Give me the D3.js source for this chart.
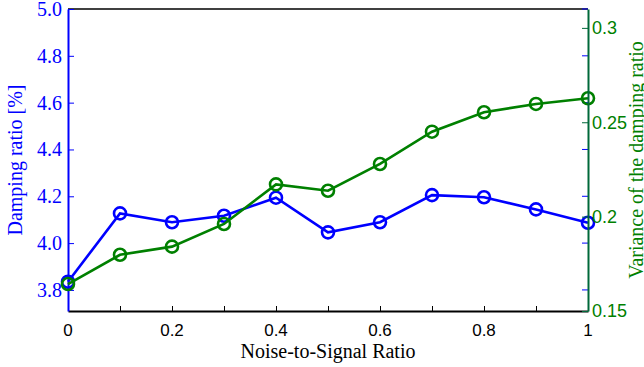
<!DOCTYPE html>
<html>
<head>
<meta charset="utf-8">
<script src="https://cdn.jsdelivr.net/npm/d3@7"></script>
<style>
  body { margin: 0; background: #fff; }
  svg { display: block; }
</style>
</head>
<body>
<svg id="chart"></svg>
<script>
// noise-to-signal ratio
const ratios = [0, 0.1, 0.2, 0.3, 0.4, 0.5, 0.6, 0.7, 0.8, 0.9, 1.0];
// damping ratio [%] (left axis)
const damping = [3.835, 4.127, 4.089, 4.117, 4.194, 4.046, 4.089, 4.205, 4.196, 4.144, 4.087];
// variance of the damping ratio (right axis)
const variance = [0.1643, 0.1798, 0.1841, 0.1961, 0.2171, 0.2137, 0.2279, 0.245, 0.2553, 0.2597, 0.2627];

const xTicks = [0, 0.2, 0.4, 0.6, 0.8, 1];
const xMinor = [0, 0.1, 0.2, 0.3, 0.4, 0.5, 0.6, 0.7, 0.8, 0.9, 1];
const leftTicks = [3.8, 4.0, 4.2, 4.4, 4.6, 4.8, 5.0];
const rightTicks = [0.15, 0.2, 0.25, 0.3];

const width = 644, height = 367;
const margin = { top: 9, right: 56, bottom: 56, left: 68 };
const w = width - margin.left - margin.right;
const h = height - margin.top - margin.bottom;

const BLUE = "#0000ff", GREEN = "#008000", AXGREEN = "#00693a";

const svg = d3.select("#chart").attr("width", width).attr("height", height);
const g = svg.append("g").attr("transform", `translate(${margin.left},${margin.top})`);

const x = d3.scaleLinear().domain([0, 1]).range([0, w]);
const yL = d3.scaleLinear().domain([3.71, 5.0]).range([h, 0]);
const yR = d3.scaleLinear().domain([0.15, 0.31]).range([h, 0]);

// box top / bottom
g.append("line").attr("x1", 0).attr("x2", w).attr("y1", 0).attr("y2", 0)
  .attr("stroke", "#000").attr("stroke-width", 1.5);

// x axis (ticks pointing in)
const xAxis = g.append("g").attr("transform", `translate(0,${h})`)
  .call(d3.axisBottom(x).tickValues(xMinor).tickSizeInner(-5).tickSizeOuter(0).tickFormat(""));
xAxis.select(".domain").attr("stroke", "#000").attr("stroke-width", 2);
xAxis.selectAll(".tick line").attr("stroke", "#000");

g.append("g").selectAll("text")
  .data(xTicks)
  .join("text")
  .attr("x", d => x(d))
  .attr("y", h + 25)
  .attr("text-anchor", "middle")
  .attr("font-family", "Liberation Sans, Arial, sans-serif")
  .attr("font-size", 17)
  .attr("fill", "#000")
  .text(d => d3.format("~g")(d));

// left axis
const left = g.append("g")
  .call(d3.axisLeft(yL).tickValues(leftTicks).tickSizeInner(-6).tickSizeOuter(0).tickPadding(6)
    .tickFormat(d3.format(".1f")));
left.select(".domain").attr("stroke", BLUE).attr("stroke-width", 2);
left.selectAll(".tick line").attr("stroke", BLUE);
left.selectAll(".tick text")
  .attr("fill", BLUE)
  .attr("font-family", "Liberation Serif, Times New Roman, serif")
  .attr("font-size", 20);

// left ticks mirrored on the right side
g.append("g").selectAll("line")
  .data(leftTicks)
  .join("line")
  .attr("x1", w - 6).attr("x2", w)
  .attr("y1", d => yL(d)).attr("y2", d => yL(d))
  .attr("stroke", BLUE);

// blue series
const lineL = d3.line().x((d, i) => x(ratios[i])).y(d => yL(d));
g.append("path").datum(damping)
  .attr("d", lineL).attr("fill", "none").attr("stroke", BLUE).attr("stroke-width", 2.6);
g.append("g").selectAll("circle")
  .data(damping)
  .join("circle")
  .attr("cx", (d, i) => x(ratios[i])).attr("cy", d => yL(d)).attr("r", 6)
  .attr("fill", "none").attr("stroke", BLUE).attr("stroke-width", 2.6);

// green series
const lineR = d3.line().x((d, i) => x(ratios[i])).y(d => yR(d));
g.append("path").datum(variance)
  .attr("d", lineR).attr("fill", "none").attr("stroke", GREEN).attr("stroke-width", 2.6);
g.append("g").selectAll("circle")
  .data(variance)
  .join("circle")
  .attr("cx", (d, i) => x(ratios[i])).attr("cy", d => yR(d)).attr("r", 6)
  .attr("fill", "none").attr("stroke", GREEN).attr("stroke-width", 2.6);

// right axis
const right = g.append("g").attr("transform", `translate(${w},0)`)
  .call(d3.axisRight(yR).tickValues(rightTicks).tickSizeInner(-6).tickSizeOuter(0).tickPadding(4)
    .tickFormat(d3.format("~g")));
right.select(".domain").attr("stroke", AXGREEN).attr("stroke-width", 2);
right.selectAll(".tick line").attr("stroke", AXGREEN);
right.selectAll(".tick text")
  .attr("fill", GREEN)
  .attr("font-family", "Liberation Sans, Arial, sans-serif")
  .attr("font-size", 18);

// axis titles
svg.append("text")
  .attr("transform", `translate(22,${margin.top + h / 2}) rotate(-90)`)
  .attr("text-anchor", "middle")
  .attr("font-family", "Liberation Serif, Times New Roman, serif")
  .attr("font-size", 20)
  .attr("fill", BLUE)
  .text("Damping ratio [%]");

svg.append("text")
  .attr("transform", `translate(643,${margin.top + h / 2}) rotate(-90)`)
  .attr("text-anchor", "middle")
  .attr("font-family", "Liberation Serif, Times New Roman, serif")
  .attr("font-size", 20)
  .attr("fill", GREEN)
  .text("Variance of the damping ratio");

svg.append("text")
  .attr("x", margin.left + w / 2)
  .attr("y", 358)
  .attr("text-anchor", "middle")
  .attr("font-family", "Liberation Serif, Times New Roman, serif")
  .attr("font-size", 20)
  .attr("fill", "#000")
  .text("Noise-to-Signal Ratio");
</script>
</body>
</html>
